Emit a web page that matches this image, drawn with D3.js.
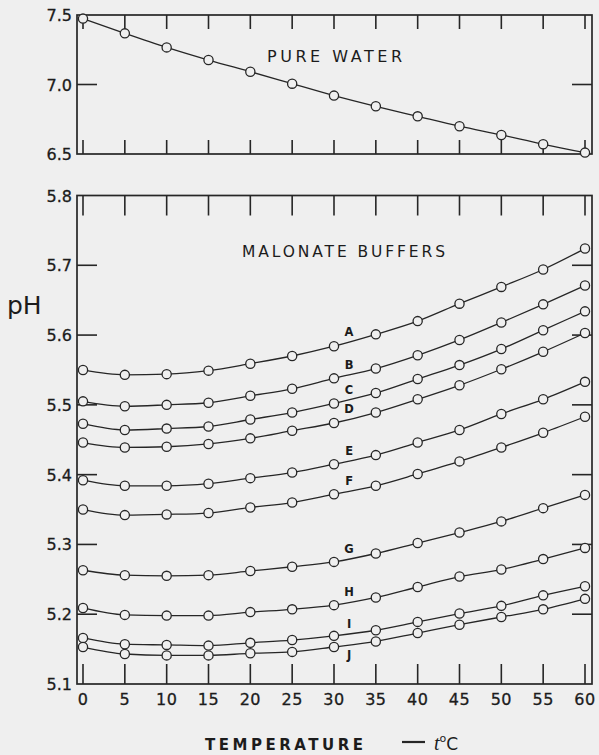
<!DOCTYPE html>
<html>
<head>
<meta charset="utf-8">
<script src="https://cdn.jsdelivr.net/npm/d3@7"></script>
<style>
  html, body { margin: 0; padding: 0; background: #efefef; }
  svg { display: block; }
  text { font-family: "DejaVu Sans", sans-serif; fill: #1c1c1c; }
</style>
</head>
<body>
<svg id="chart" width="599" height="755"></svg>
<script>
// temperatures, deg C
const temps = [0, 5, 10, 15, 20, 25, 30, 35, 40, 45, 50, 55, 60];

// pure water pH
const waterPH = [7.474, 7.368, 7.267, 7.176, 7.092, 7.006, 6.920, 6.843, 6.771, 6.700, 6.637, 6.570, 6.510];

// malonate buffers A..J
const bufferNames = ["A", "B", "C", "D", "E", "F", "G", "H", "I", "J"];
const bufA = [5.550, 5.543, 5.544, 5.549, 5.559, 5.570, 5.584, 5.601, 5.620, 5.645, 5.669, 5.694, 5.724];
const bufB = [5.505, 5.498, 5.500, 5.503, 5.513, 5.523, 5.538, 5.552, 5.571, 5.593, 5.618, 5.644, 5.671];
const bufC = [5.473, 5.464, 5.466, 5.469, 5.479, 5.489, 5.502, 5.517, 5.537, 5.557, 5.580, 5.607, 5.634];
const bufD = [5.446, 5.439, 5.440, 5.444, 5.452, 5.463, 5.474, 5.489, 5.508, 5.528, 5.551, 5.576, 5.603];
const bufE = [5.392, 5.384, 5.384, 5.387, 5.395, 5.403, 5.415, 5.428, 5.446, 5.464, 5.487, 5.508, 5.533];
const bufF = [5.350, 5.342, 5.343, 5.345, 5.353, 5.360, 5.372, 5.384, 5.401, 5.419, 5.439, 5.460, 5.483];
const bufG = [5.263, 5.256, 5.255, 5.256, 5.262, 5.268, 5.275, 5.287, 5.302, 5.317, 5.333, 5.352, 5.371];
const bufH = [5.209, 5.199, 5.198, 5.198, 5.203, 5.207, 5.213, 5.224, 5.239, 5.254, 5.264, 5.279, 5.295];
const bufI = [5.166, 5.157, 5.156, 5.155, 5.159, 5.163, 5.169, 5.177, 5.189, 5.201, 5.212, 5.227, 5.240];
const bufJ = [5.153, 5.143, 5.141, 5.141, 5.144, 5.146, 5.153, 5.161, 5.173, 5.185, 5.196, 5.207, 5.222];
const bufferValues = [bufA, bufB, bufC, bufD, bufE, bufF, bufG, bufH, bufI, bufJ];

// tick labels
const waterTicks = [6.5, 7.0, 7.5];
const bufferTicks = [5.1, 5.2, 5.3, 5.4, 5.5, 5.6, 5.7, 5.8];

const svg = d3.select("#chart");
const ink = "#262626";

const left = 77, right = 592;
const x = d3.scaleLinear().domain([0, 60]).range([83, 585]);

const yTop = d3.scaleLinear().domain([6.5, 7.5]).range([154, 15]);
const yBot = d3.scaleLinear().domain([5.1, 5.8]).range([684, 195.5]);

function panel(y, ticks, tickLen, fmt) {
    const g = svg.append("g");
    const [y0, y1] = y.range();
    // frame
    g.append("rect")
        .attr("x", left).attr("y", y1)
        .attr("width", right - left).attr("height", y0 - y1)
        .attr("fill", "none").attr("stroke", ink).attr("stroke-width", 1.7);

    // x ticks top and bottom, inside
    g.selectAll(".xt-top").data(temps).enter().append("line")
        .attr("x1", d => x(d)).attr("x2", d => x(d))
        .attr("y1", y1).attr("y2", y1 + tickLen)
        .attr("stroke", ink).attr("stroke-width", 1.6);
    g.selectAll(".xt-bot").data(temps).enter().append("line")
        .attr("x1", d => x(d)).attr("x2", d => x(d))
        .attr("y1", y0).attr("y2", y0 - tickLen)
        .attr("stroke", ink).attr("stroke-width", 1.6);

    // y ticks left and right, inside (not on the frame ends)
    const inner = ticks.slice(1, -1);
    g.selectAll(".yt-l").data(inner).enter().append("line")
        .attr("x1", left).attr("x2", left + 20)
        .attr("y1", d => y(d)).attr("y2", d => y(d))
        .attr("stroke", ink).attr("stroke-width", 1.6);
    g.selectAll(".yt-r").data(inner).enter().append("line")
        .attr("x1", right).attr("x2", right - 20)
        .attr("y1", d => y(d)).attr("y2", d => y(d))
        .attr("stroke", ink).attr("stroke-width", 1.6);

    g.selectAll(".yl").data(ticks).enter().append("text")
        .attr("x", 72).attr("y", d => y(d) + 6)
        .attr("text-anchor", "end")
        .attr("font-size", 16)
        .attr("stroke", "#1c1c1c").attr("stroke-width", 0.3)
        .text(fmt);
    return g;
}

function series(g, y, values) {
    const pts = temps.map((t, i) => [t, values[i]]);
    const line = d3.line().x(d => x(d[0])).y(d => y(d[1])).curve(d3.curveMonotoneX);
    g.append("path").datum(pts)
        .attr("d", line).attr("fill", "none")
        .attr("stroke", ink).attr("stroke-width", 1.3);
    g.selectAll(null).data(pts).enter().append("circle")
        .attr("cx", d => x(d[0])).attr("cy", d => y(d[1]))
        .attr("r", 4.6)
        .attr("fill", "#efefef").attr("stroke", ink).attr("stroke-width", 1.3);
}

// top panel: pure water
const gTop = panel(yTop, waterTicks, 14, d => d.toFixed(1));
series(gTop, yTop, waterPH);
gTop.append("text")
    .attr("x", 267).attr("y", 62)
    .attr("font-size", 16)
    .attr("textLength", 135).attr("lengthAdjust", "spacing")
    .text("PURE WATER");

// bottom panel: malonate buffers
const gBot = panel(yBot, bufferTicks, 20, d => d.toFixed(1));
bufferValues.forEach(v => series(gBot, yBot, v));
gBot.append("text")
    .attr("x", 242).attr("y", 257)
    .attr("font-size", 15.5)
    .attr("textLength", 203).attr("lengthAdjust", "spacing")
    .text("MALONATE BUFFERS");

// curve letters near t = 32
const labelT = 31.8;
const interp = v => d3.scaleLinear().domain(temps).range(v)(labelT);
gBot.selectAll(".blab").data(bufferNames).enter().append("text")
    .attr("x", x(labelT)).attr("y", (d, i) => yBot(interp(bufferValues[i])) + (d === "J" ? 14 : -6))
    .attr("text-anchor", "middle")
    .attr("font-size", 11.5).attr("font-weight", "bold")
    .text(d => d);

// x tick labels
svg.selectAll(".xl").data(temps).enter().append("text")
    .attr("x", d => x(d)).attr("y", 705)
    .attr("text-anchor", "middle")
    .attr("font-size", 16)
    .attr("letter-spacing", 0.5)
    .attr("stroke", "#1c1c1c").attr("stroke-width", 0.3)
    .text(d => d);

// axis titles
svg.append("text")
    .attr("x", 7).attr("y", 314)
    .attr("font-size", 25)
    .text("pH");

svg.append("text")
    .attr("x", 205).attr("y", 750)
    .attr("font-size", 15).attr("font-weight", "bold")
    .attr("textLength", 158).attr("lengthAdjust", "spacing")
    .text("TEMPERATURE");
svg.append("line")
    .attr("x1", 402).attr("x2", 425)
    .attr("y1", 742).attr("y2", 742)
    .attr("stroke", ink).attr("stroke-width", 2.2);
svg.append("text")
    .attr("x", 434).attr("y", 750)
    .attr("font-size", 20)
    .html('<tspan font-style="italic" font-family="Liberation Serif">t</tspan><tspan dy="-8" font-size="11">o</tspan><tspan dy="8" font-size="17">C</tspan>');
</script>
</body>
</html>
